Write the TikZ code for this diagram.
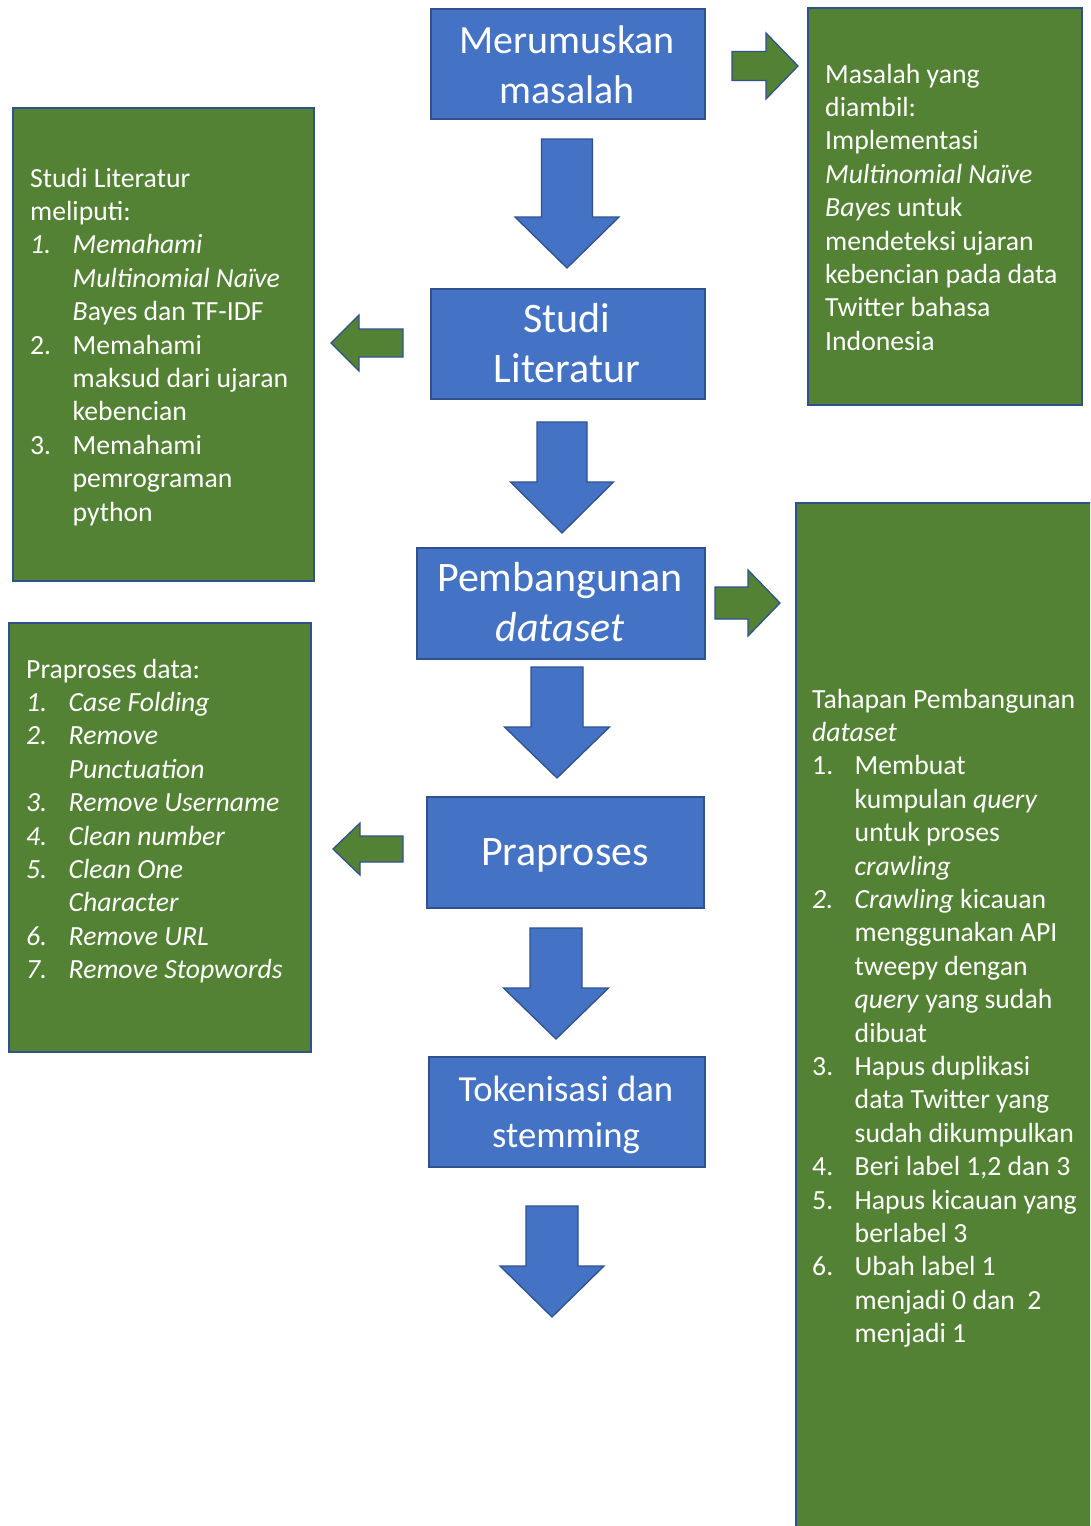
\documentclass[tikz,border=0pt]{standalone}
\usepackage{fontspec}
\setmainfont{Carlito}
\definecolor{bfill}{HTML}{4472C4}
\definecolor{bline}{HTML}{2F528F}
\definecolor{gfill}{HTML}{548235}
\newlength\itemind
\setlength\itemind{42.5pt}
\newcommand\nm[1]{\makebox[\itemind][l]{#1}}
\newcommand\ind{\hspace*{\itemind}}
% block arrow pointing down: style, cx, top, headstart, tip, half shaft, half head
\newcommand\blkdown[7]{\draw[#1] ({#2-#6},#3) -- ({#2+#6},#3) -- ({#2+#6},#4) -- ({#2+#7},#4) -- (#2,#5) -- ({#2-#7},#4) -- ({#2-#6},#4) -- cycle;}
% horizontal block arrow: style, cy, tail x, headstart x, tip x, half shaft, half head
\newcommand\blkh[7]{\draw[#1] (#3,{#2-#6}) -- (#4,{#2-#6}) -- (#4,{#2-#7}) -- (#5,#2) -- (#4,{#2+#7}) -- (#4,{#2+#6}) -- (#3,{#2+#6}) -- cycle;}
\begin{document}
\begin{tikzpicture}[x=1pt,y=-1pt,
  bluebox/.style={draw=bline, fill=bfill, line width=1.5pt, inner sep=0, anchor=north west},
  greenbox/.style={draw=bline, fill=gfill, line width=1.5pt, inner sep=0, anchor=north west},
  bluearrow/.style={draw=bline, fill=bfill, line width=1.3pt, line join=miter},
  greenarrow/.style={draw=bline, fill=gfill, line width=1.3pt, line join=miter},
  titletext/.style={text=white, anchor=base, inner sep=0, font=\fontsize{42}{50}\selectfont},
  toptitle/.style={text=white, anchor=base, inner sep=0, font=\fontsize{40}{50}\selectfont},
  smalltitle/.style={text=white, anchor=base, inner sep=0, font=\fontsize{36.7}{46}\selectfont},
  bodytext/.style={text=white, anchor=base west, inner sep=0, font=\fontsize{27.7}{33.4}\selectfont}]
\useasboundingbox (0,0) rectangle (1090,1526);
\clip (0,0) rectangle (1090,1526);
\fill[white] (0,0) rectangle (1090,1526);

% main flow boxes
\node[bluebox, minimum width=274pt, minimum height=110pt] (b1) at (430,8) {};
\node[bluebox, minimum width=274pt, minimum height=110pt] (b2) at (430,288) {};
\node[bluebox, minimum width=288pt, minimum height=111pt] (b3) at (416,547) {};
\node[bluebox, minimum width=277pt, minimum height=111pt] (b4) at (426,796) {};
\node[bluebox, minimum width=276pt, minimum height=110pt] (b5) at (428,1056) {};

% green description boxes
\node[greenbox, minimum width=274pt, minimum height=397pt] (g1) at (807,7) {};
\node[greenbox, minimum width=301pt, minimum height=473pt] (g2) at (12,107) {};
\node[greenbox, minimum width=302pt, minimum height=429pt] (g3) at (8,622) {};
\node[greenbox, minimum width=330pt, minimum height=1060pt] (g4) at (795,502) {};

% titles
\node[toptitle] (t1) at (567,53) {\parbox[t]{270pt}{\centering Merumuskan\\masalah}};
\node[titletext] (t2) at (567,332) {\parbox[t]{270pt}{\centering Studi\\Literatur}};
\node[titletext] (t3) at (560,591) {\parbox[t]{285pt}{\centering Pembangunan\\\textit{dataset}}};
\node[titletext] (t4) at (565,865) {Praproses};
\node[smalltitle] (t5) at (566,1101) {\parbox[t]{270pt}{\centering Tokenisasi dan\\stemming}};

% body texts
\node[bodytext] (x1) at (30,187) {\parbox[t]{300pt}{\raggedright
Studi Literatur\\
meliputi:\\
\nm{\textit{1.}}\textit{Memahami}\\
\ind\textit{Multinomial Naïve}\\
\ind\textit{B}ayes dan TF-IDF\\
\nm{2.}Memahami\\
\ind maksud dari ujaran\\
\ind kebencian\\
\nm{3.}Memahami\\
\ind pemrograman\\
\ind python}};

\node[bodytext] (x2) at (825,83) {\parbox[t]{300pt}{\raggedright
Masalah yang\\
diambil:\\
Implementasi\\
\textit{Multinomial Naïve}\\
\textit{Bayes} untuk\\
mendeteksi ujaran\\
kebencian pada data\\
Twitter bahasa\\
Indonesia}};

\node[bodytext] (x3) at (26,678) {\parbox[t]{300pt}{\raggedright
Praproses data:\\
\nm{\textit{1.}}\textit{Case Folding}\\
\nm{\textit{2.}}\textit{Remove}\\
\ind\textit{Punctuation}\\
\nm{\textit{3.}}\textit{Remove Username}\\
\nm{\textit{4.}}\textit{Clean number}\\
\nm{\textit{5.}}\textit{Clean One}\\
\ind\textit{Character}\\
\nm{\textit{6.}}\textit{Remove URL}\\
\nm{\textit{7.}}\textit{Remove Stopwords}}};

\node[bodytext] (x4) at (812,708) {\parbox[t]{300pt}{\raggedright
Tahapan Pembangunan\\
\textit{dataset}\\
\nm{1.}Membuat\\
\ind kumpulan \textit{query}\\
\ind untuk proses\\
\ind\textit{crawling}\\
\nm{\textit{2.}}\textit{Crawling} kicauan\\
\ind menggunakan API\\
\ind tweepy dengan\\
\ind\textit{query} yang sudah\\
\ind dibuat\\
\nm{3.}Hapus duplikasi\\
\ind data Twitter yang\\
\ind sudah dikumpulkan\\
\nm{4.}Beri label 1,2 dan 3\\
\nm{5.}Hapus kicauan yang\\
\ind berlabel 3\\
\nm{6.}Ubah label 1\\
\ind menjadi 0 dan\ \ 2\\
\ind menjadi 1}};

% block arrows down
\blkdown{bluearrow}{567}{139}{217}{268}{25.5}{52}
\blkdown{bluearrow}{562}{422}{482}{533}{25}{51.5}
\blkdown{bluearrow}{557}{667}{727}{778}{26}{52.5}
\blkdown{bluearrow}{556}{928}{988}{1039}{26}{52.5}
\blkdown{bluearrow}{552}{1206}{1266}{1317}{26}{52}

% side arrows
\blkh{greenarrow}{66}{732}{766}{798}{14.5}{33}
\blkh{greenarrow}{603}{715}{748}{780}{16}{33}
\blkh{greenarrow}{343}{403}{359}{331}{14}{28}
\blkh{greenarrow}{849}{403}{360}{333}{13}{26}
\end{tikzpicture}
\end{document}
